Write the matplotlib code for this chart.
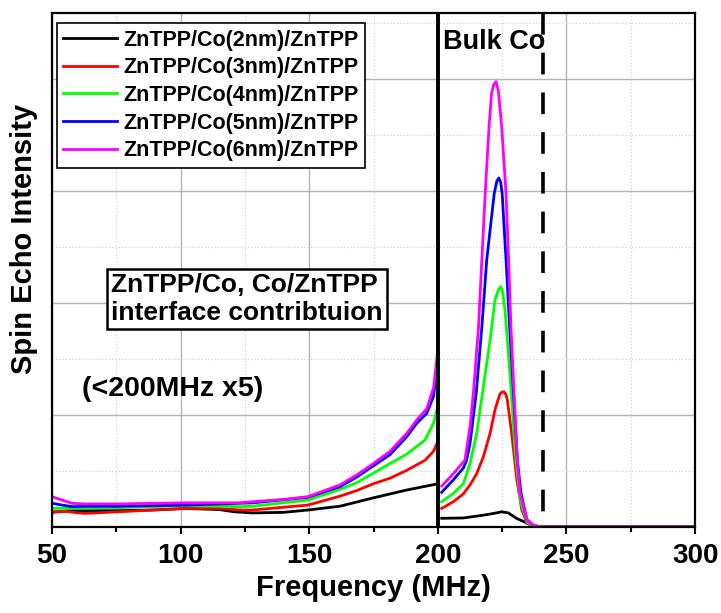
import numpy as np
import matplotlib.pyplot as plt
from matplotlib.ticker import MultipleLocator, NullFormatter

plt.rcParams['font.family'] = ['Liberation Sans', 'DejaVu Sans']
plt.rcParams['font.weight'] = 'bold'

# ---------------- data (below 200 MHz already x5) ----------------
labels = ['ZnTPP/Co(2nm)/ZnTPP', 'ZnTPP/Co(3nm)/ZnTPP', 'ZnTPP/Co(4nm)/ZnTPP',
          'ZnTPP/Co(5nm)/ZnTPP', 'ZnTPP/Co(6nm)/ZnTPP']
colors = ['black', '#ff0000', '#00ff00', '#0000ff', '#ff00ff']

# interface part (50-200 MHz)
f_low_2nm = [50, 57, 76, 89, 102, 115, 121, 128, 140, 149.5, 162, 175, 188, 200]
s_low_2nm = [0.135, 0.15, 0.15, 0.156, 0.17, 0.16, 0.14, 0.13, 0.135, 0.156, 0.19, 0.265, 0.335, 0.39]
f_low_3nm = [50, 55, 60.4, 63, 76, 89, 102, 115, 123, 128, 149.5, 162, 168.5, 174.9, 181.4, 187.9, 195, 198.3, 200]
s_low_3nm = [0.14, 0.145, 0.13, 0.126, 0.14, 0.156, 0.17, 0.17, 0.156, 0.156, 0.20, 0.28, 0.33, 0.39, 0.44, 0.51, 0.60, 0.68, 0.766]
f_low_4nm = [50, 57.8, 76, 102, 123, 128, 149.5, 162, 168.5, 174.9, 181.4, 187.9, 195, 198.3, 200]
s_low_4nm = [0.17, 0.17, 0.177, 0.195, 0.186, 0.19, 0.245, 0.34, 0.40, 0.485, 0.57, 0.655, 0.78, 0.93, 1.08]
f_low_5nm = [50, 53.9, 57.8, 63, 76, 102, 128, 149.5, 162, 168.5, 174.9, 181.4, 187.9, 191.8, 195.7, 198.3, 200]
s_low_5nm = [0.216, 0.20, 0.186, 0.19, 0.19, 0.20, 0.22, 0.27, 0.365, 0.45, 0.55, 0.65, 0.81, 0.93, 1.02, 1.17, 1.47]
f_low_6nm = [50, 53.9, 57.8, 63, 76, 89, 102, 123, 128, 140, 149.5, 162, 168.5, 174.9, 181.4, 187.9, 191.8, 195.7, 198.3, 199.6, 200]
s_low_6nm = [0.275, 0.245, 0.216, 0.21, 0.21, 0.216, 0.22, 0.22, 0.23, 0.25, 0.275, 0.38, 0.47, 0.57, 0.68, 0.84, 0.96, 1.06, 1.245, 1.50, 1.63]

# bulk part (201-300 MHz)
f_high_2nm = [201.5, 209.9, 217.7, 221.6, 224.8, 227.4, 230.7, 234.6, 237.1, 240, 300]
s_high_2nm = [0.082, 0.085, 0.11, 0.125, 0.14, 0.13, 0.08, 0.04, 0.01, 0.005, 0.005]
f_high_3nm = [201.5, 206.0, 209.9, 212.5, 215.1, 217.7, 220.3, 222.2, 224.1, 225.0, 225.7, 226.4, 227.0, 228.7,
              230.7, 232.6, 234.6, 237.1, 240, 300]
s_high_3nm = [0.17, 0.23, 0.30, 0.38, 0.48, 0.633, 0.84, 1.05, 1.19, 1.21, 1.21, 1.19, 1.14, 0.84,
              0.425, 0.16, 0.04, 0.008, 0.005, 0.005]
f_high_4nm = [201.5, 206.0, 209.9, 212.5, 215.1, 217.7, 220.3, 222.2, 223.5, 224.4, 225.2, 226.1, 228.1, 230.1,
              232.0, 234.6, 237.1, 240, 300]
s_high_4nm = [0.23, 0.304, 0.39, 0.57, 0.84, 1.26, 1.67, 2.03, 2.12, 2.15, 2.10, 1.94, 1.35, 0.66,
              0.245, 0.05, 0.008, 0.005, 0.005]
f_high_5nm = [201.5, 206.0, 209.9, 211.2, 212.5, 214.9, 217.1, 219.0, 221.9, 222.9, 223.7, 224.4, 225.0, 226.5,
              227.9, 229.4, 230.9, 232.3, 234.6, 237.1, 240, 300]
s_high_5nm = [0.314, 0.425, 0.53, 0.603, 0.75, 1.198, 1.79, 2.39, 2.98, 3.09, 3.12, 3.08, 2.98, 2.39,
              1.79, 1.20, 0.60, 0.306, 0.07, 0.02, 0.005, 0.005]
f_high_6nm = [201.5, 206.0, 210.5, 212.5, 213.8, 215.8, 217.1, 218.4, 219.9, 220.9, 221.8, 222.6, 223.5, 224.8,
              226.5, 227.5, 228.4, 229.6, 230.9, 231.9, 234.6, 237.1, 240, 300]
s_high_6nm = [0.37, 0.48, 0.60, 0.90, 1.20, 1.79, 2.39, 2.98, 3.58, 3.88, 3.96, 3.98, 3.90, 3.58,
              2.98, 2.39, 1.79, 1.20, 0.60, 0.31, 0.07, 0.02, 0.005, 0.005]

f_low = [f_low_2nm, f_low_3nm, f_low_4nm, f_low_5nm, f_low_6nm]
s_low = [s_low_2nm, s_low_3nm, s_low_4nm, s_low_5nm, s_low_6nm]
f_high = [f_high_2nm, f_high_3nm, f_high_4nm, f_high_5nm, f_high_6nm]
s_high = [s_high_2nm, s_high_3nm, s_high_4nm, s_high_5nm, s_high_6nm]

split_freq = 200
bulk_edge = 241

# ---------------- plot ----------------
fig = plt.figure(figsize=(7.21, 6.13), dpi=100)
ax = fig.add_axes([0.0721, 0.1395, 0.892, 0.8396])

for i in range(len(labels)):
    ax.plot(f_low[i], s_low[i], color=colors[i], lw=2.0, label=labels[i], solid_joinstyle='round')
    ax.plot(f_high[i], s_high[i], color=colors[i], lw=2.0, solid_joinstyle='round')

ax.axvline(split_freq, color='black', lw=2.8, zorder=5)
# drawn top -> bottom so the dash pattern starts at the top
ax.axvline(bulk_edge, ymin=1, ymax=0, color='black', lw=2.6, dashes=(6, 5), zorder=5)

ax.set_xlim(50, 300)
ax.set_ylim(0, 4.594)
ax.xaxis.set_major_locator(MultipleLocator(50))
ax.xaxis.set_minor_locator(MultipleLocator(25))
ax.yaxis.set_major_locator(MultipleLocator(1))
ax.yaxis.set_minor_locator(MultipleLocator(0.5))
ax.yaxis.set_major_formatter(NullFormatter())
ax.grid(which='major', color='#b4b4b4', lw=1.0, ls='-')
ax.grid(which='minor', color='#d4d4d4', lw=0.9, ls=':')
ax.set_axisbelow(True)

ax.tick_params(axis='x', which='major', length=5, width=1.5, labelsize=20, pad=6)
ax.tick_params(axis='x', which='minor', length=3.5, width=1.5)
ax.tick_params(axis='y', which='both', length=0)
for sp in ax.spines.values():
    sp.set_linewidth(1.6)

ax.set_xlabel('Frequency (MHz)', fontsize=21, fontweight='bold', labelpad=4)
ax.set_ylabel('Spin Echo Intensity', fontsize=21, fontweight='bold')
ax.yaxis.set_label_coords(-0.022, 0.561)

leg = ax.legend(loc='upper left', bbox_to_anchor=(0.0078, 0.980), borderaxespad=0,
                fontsize=15.5, fancybox=False, framealpha=1, edgecolor='black',
                handlelength=2.5, handletextpad=0.3, labelspacing=0.31,
                borderpad=0.3)
leg.get_frame().set_linewidth(1.2)

ax.text(125.8, 2.04, 'ZnTPP/Co, Co/ZnTPP\ninterface contribtuion', fontsize=19,
        fontweight='bold', ha='center', va='center', ma='left', linespacing=1.25,
        bbox=dict(boxstyle='square,pad=0.15', fc='white', ec='black', lw=1.8))
ax.text(61.5, 1.24, '(<200MHz x5)', fontsize=20.5, fontweight='bold', ha='left', va='center')
ax.text(202.1, 4.33, 'Bulk Co', fontsize=19.5, fontweight='bold', ha='left', va='center', zorder=7)

fig.savefig('out.png', dpi=100)
